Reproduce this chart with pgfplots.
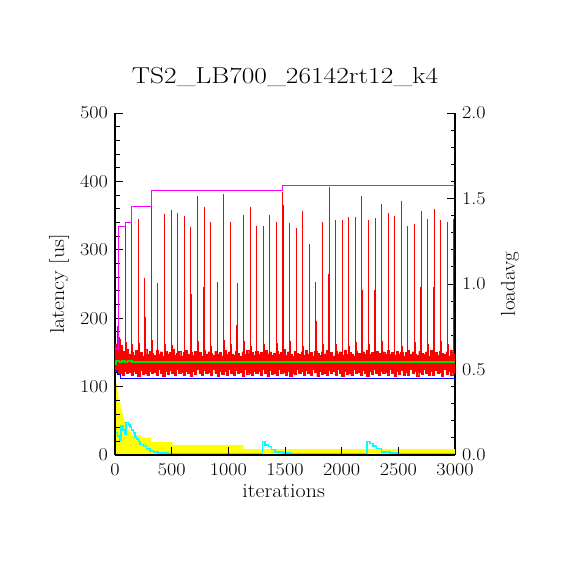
\documentclass[border=0pt]{standalone}
\usepackage{pgfplots}
\pgfplotsset{compat=1.18}
\definecolor{cred}{RGB}{255,0,0}
\definecolor{cgreen}{RGB}{0,225,0}
\definecolor{cblue}{RGB}{0,0,255}
\definecolor{cmag}{RGB}{255,0,255}
\definecolor{ccyan}{RGB}{0,255,255}
\definecolor{cyel}{RGB}{255,255,0}
\newcommand\tkf{\fontsize{18}{18}\selectfont}
\newcommand\lbf{\fontsize{20}{24}\selectfont}
\begin{document}
\begin{tikzpicture}[x=1pt,y=1pt]
\path[use as bounding box] (-115,-115) rectangle (455,455);
% ---------- loadavg axis (right) ----------
\begin{axis}[
  at={(0,0)}, anchor=south west, scale only axis, width=340pt, height=342pt,
  xmin=0, xmax=3000, ymin=0, ymax=2,
  axis x line=none, axis y line*=right,
  /pgf/number format/assume math mode=true,
  ytick={0,0.5,1,1.5,2}, minor y tick num=4,
  tick align=inside, major tick length=8pt, minor tick length=4.5pt,
  every tick/.append style={black, line width=0.9pt},
  axis line style={black, line width=1.2pt},
  yticklabel={\scalebox{1.12}[1]{\pgfmathprintnumber{\tick}}},
  yticklabel style={font=\tkf, /pgf/number format/fixed, /pgf/number format/fixed zerofill, /pgf/number format/precision=1, anchor=west, inner sep=0pt, xshift=7pt},
  ylabel={\scalebox{1.05}[1]{loadavg}},
  ylabel style={font=\lbf, at={(axis description cs:1.176,0.5)}, anchor=base, inner sep=0pt},
  clip=false,
]
\addplot[draw=none, fill=cyel, const plot] coordinates {
(0,0.47)(10,0.42)(20,0.37)(30,0.33)(40,0.30)(50,0.27)(60,0.245)(70,0.22)(80,0.20)(90,0.18)(100,0.165)(115,0.15)(130,0.135)(147,0.117)(229,0.101)(318,0.076)(509,0.058)(1132,0.035)(3000,0.035)} \closedcycle;
\addplot[ccyan, line width=1.6pt, const plot] coordinates {
(0,0.058)(5,0.131)(21,0.111)(38,0.088)(53,0.170)(68,0.146)(88,0.123)(97,0.189)(118,0.175)(132,0.162)(147,0.146)(162,0.127)(176,0.107)(191,0.092)(206,0.078)(221,0.062)(250,0.049)(279,0.035)(309,0.025)(338,0.016)(382,0.01)(471,0.006)
(1300,0.078)(1324,0.058)(1353,0.049)(1382,0.033)(1412,0.019)(1471,0.01)(1559,0.006)
(2226,0.078)(2250,0.068)(2279,0.053)(2309,0.039)(2353,0.019)(2426,0.01)(2491,0.006)(3000,0.006)};
\end{axis}
% ---------- latency axis (left) ----------
\begin{axis}[
  at={(0,0)}, anchor=south west, scale only axis, width=340pt, height=342pt,
  xmin=0, xmax=3000, ymin=0, ymax=500,
  axis x line*=bottom, axis y line*=left,
  /pgf/number format/assume math mode=true,
  /pgf/number format/1000 sep={},
  xtick={0,500,...,3000}, ytick={0,100,...,500}, minor y tick num=4,
  tick align=inside, major tick length=8pt, minor tick length=4.5pt,
  every tick/.append style={black, line width=0.9pt},
  axis line style={black, line width=1.2pt},
  xticklabel={\scalebox{1.12}[1]{\pgfmathprintnumber{\tick}}},
  yticklabel={\scalebox{1.12}[1]{\pgfmathprintnumber{\tick}}},
  xticklabel style={font=\tkf, anchor=north, inner sep=0pt, yshift=-8.5pt},
  yticklabel style={font=\tkf, anchor=east, inner sep=0pt, xshift=-7pt},
  title={\scalebox{1.19}[1]{TS2\_LB700\_26142rt12\_k4}},
  title style={font=\fontsize{23}{27}\selectfont, at={(axis description cs:0.5,1.0673)}, anchor=base, inner sep=0pt},
  xlabel={\scalebox{1.1}[1]{iterations}},
  xlabel style={font=\lbf, at={(axis description cs:0.496,-0.1228)}, anchor=base, inner sep=0pt},
  ylabel={\scalebox{1.1}[1]{latency [us]}},
  ylabel style={font=\lbf, at={(axis description cs:-0.15,0.5)}, anchor=base, inner sep=0pt},
]
% noise band (upper envelope, then lower envelope back)
\addplot[draw=cred, fill=cred, line width=0.4pt, const plot] coordinates {
(0,162)(20,172)(40,160)(60,152)(80,149)(100,155)(120,147)(140,151)(160,146)(180,153)(200,148)(220,150)(240,145)(260,154)(280,147)(300,152)(320,149)(340,146)(360,153)(380,148)(400,151)(420,145)(440,152)(460,147)(480,150)(500,154)(520,146)(540,149)(560,152)(580,145)(600,150)(620,153)(640,147)(660,151)(680,146)(700,152)(720,148)(740,150)(760,145)(780,153)(800,147)(820,151)(840,149)(860,146)(880,152)(900,148)(920,150)(940,145)(960,153)(980,147)(1000,151)(1020,148)(1040,146)(1060,152)(1080,149)(1100,145)(1120,151)(1140,147)(1160,153)(1180,148)(1200,150)(1220,146)(1240,152)(1260,147)(1280,150)(1300,145)(1320,153)(1340,148)(1360,151)(1380,146)(1400,149)(1420,152)(1440,147)(1460,150)(1480,154)(1500,146)(1520,151)(1540,148)(1560,145)(1580,152)(1600,149)(1620,147)(1640,151)(1660,146)(1680,153)(1700,148)(1720,150)(1740,145)(1760,152)(1780,149)(1800,146)(1820,151)(1840,148)(1860,153)(1880,147)(1900,150)(1920,145)(1940,152)(1960,148)(1980,151)(2000,146)(2020,153)(2040,147)(2060,150)(2080,148)(2100,145)(2120,152)(2140,149)(2160,146)(2180,151)(2200,148)(2220,153)(2240,147)(2260,150)(2280,145)(2300,152)(2320,149)(2340,146)(2360,151)(2380,148)(2400,153)(2420,147)(2440,150)(2460,146)(2480,152)(2500,148)(2520,151)(2540,145)(2560,150)(2580,153)(2600,147)(2620,151)(2640,148)(2660,146)(2680,152)(2700,149)(2720,147)(2740,151)(2760,145)(2780,153)(2800,148)(2820,150)(2840,146)(2860,152)(2880,149)(2900,147)(2920,151)(2940,145)(2960,153)(2980,148)(3000,150)
(3000,120)(2980,116)(2960,123)(2940,118)(2920,125)(2900,115)(2880,121)(2860,119)(2840,124)(2820,117)(2800,122)(2780,116)(2760,120)(2740,125)(2720,118)(2700,121)(2680,115)(2660,123)(2640,119)(2620,125)(2600,117)(2580,121)(2560,116)(2540,124)(2520,118)(2500,122)(2480,115)(2460,120)(2440,125)(2420,117)(2400,121)(2380,119)(2360,123)(2340,116)(2320,120)(2300,125)(2280,118)(2260,122)(2240,115)(2220,120)(2200,124)(2180,117)(2160,121)(2140,119)(2120,125)(2100,116)(2080,120)(2060,118)(2040,123)(2020,115)(2000,120)(1980,125)(1960,117)(1940,122)(1920,119)(1900,124)(1880,116)(1860,120)(1840,118)(1820,123)(1800,115)(1780,121)(1760,125)(1740,117)(1720,120)(1700,124)(1680,116)(1660,122)(1640,119)(1620,125)(1600,118)(1580,120)(1560,115)(1540,123)(1520,117)(1500,121)(1480,119)(1460,125)(1440,116)(1420,120)(1400,118)(1380,124)(1360,115)(1340,120)(1320,125)(1300,117)(1280,122)(1260,119)(1240,123)(1220,116)(1200,120)(1180,118)(1160,125)(1140,115)(1120,121)(1100,119)(1080,124)(1060,117)(1040,120)(1020,125)(1000,116)(980,122)(960,118)(940,123)(920,115)(900,120)(880,125)(860,117)(840,121)(820,119)(800,124)(780,116)(760,120)(740,125)(720,118)(700,122)(680,115)(660,120)(640,123)(620,117)(600,121)(580,119)(560,125)(540,116)(520,120)(500,124)(480,118)(460,122)(440,115)(420,120)(400,125)(380,117)(360,121)(340,119)(320,123)(300,116)(280,120)(260,118)(240,124)(220,115)(200,120)(180,122)(160,117)(140,121)(120,119)(100,123)(80,117)(60,120)(40,119)(20,122)(0,124)};
% spikes
\addplot[cred, line width=1pt, unbounded coords=jump] coordinates {
(24,140)(24,188)(nan,nan)(44,140)(44,173)(nan,nan)
(91,140)(91,334)(nan,nan)(144,140)(144,340)(nan,nan)(203,140)(203,345)(nan,nan)
(259,140)(259,259)(nan,nan)(265,140)(265,202)(nan,nan)(320,140)(320,364)(nan,nan)
(379,140)(379,252)(nan,nan)(438,140)(438,352)(nan,nan)(497,140)(497,358)(nan,nan)
(550,140)(550,354)(nan,nan)(609,140)(609,349)(nan,nan)(668,140)(668,334)(nan,nan)
(673,140)(673,235)(nan,nan)(726,140)(726,379)(nan,nan)(779,140)(779,246)(nan,nan)
(788,140)(788,363)(nan,nan)(844,140)(844,341)(nan,nan)(903,140)(903,253)(nan,nan)
(956,140)(956,382)(nan,nan)(1018,140)(1018,341)(nan,nan)(1074,140)(1074,190)(nan,nan)
(1080,140)(1080,252)(nan,nan)(1132,140)(1132,351)(nan,nan)(1194,140)(1194,362)(nan,nan)
(1247,140)(1247,335)(nan,nan)(1309,140)(1309,335)(nan,nan)(1362,140)(1362,351)(nan,nan)
(1424,140)(1424,340)(nan,nan)(1477,140)(1477,385)(nan,nan)(1486,140)(1486,365)(nan,nan)
(1538,140)(1538,339)(nan,nan)(1600,140)(1600,332)(nan,nan)(1653,140)(1653,357)(nan,nan)
(1715,140)(1715,308)(nan,nan)(1768,140)(1768,253)(nan,nan)(1774,140)(1774,196)(nan,nan)
(1830,140)(1830,340)(nan,nan)(1886,140)(1886,265)(nan,nan)(1891,140)(1891,392)(nan,nan)
(1944,140)(1944,344)(nan,nan)(2006,140)(2006,344)(nan,nan)(2059,140)(2059,348)(nan,nan)
(2121,140)(2121,348)(nan,nan)(2177,140)(2177,379)(nan,nan)(2182,140)(2182,241)(nan,nan)
(2235,140)(2235,343)(nan,nan)(2291,140)(2291,241)(nan,nan)(2297,140)(2297,346)(nan,nan)
(2350,140)(2350,367)(nan,nan)(2409,140)(2409,354)(nan,nan)(2465,140)(2465,349)(nan,nan)
(2526,140)(2526,371)(nan,nan)(2579,140)(2579,335)(nan,nan)(2585,140)(2585,251)(nan,nan)
(2641,140)(2641,338)(nan,nan)(2697,140)(2697,246)(nan,nan)(2703,140)(2703,357)(nan,nan)
(2756,140)(2756,345)(nan,nan)(2809,140)(2809,246)(nan,nan)(2815,140)(2815,360)(nan,nan)
(2871,140)(2871,344)(nan,nan)(2932,140)(2932,341)(nan,nan)(2985,140)(2985,345)(nan,nan)
(52,140)(52,170)(nan,nan)(100,140)(100,165)(nan,nan)(152,140)(152,162)(nan,nan)
(212,140)(212,164)(nan,nan)(330,140)(330,168)(nan,nan)(446,140)(446,163)(nan,nan)
(505,140)(505,161)(nan,nan)(617,140)(617,165)(nan,nan)(734,140)(734,166)(nan,nan)
(852,140)(852,160)(nan,nan)(964,140)(964,168)(nan,nan)(1026,140)(1026,162)(nan,nan)
(1140,140)(1140,166)(nan,nan)(1202,140)(1202,160)(nan,nan)(1316,140)(1316,162)(nan,nan)
(1432,140)(1432,164)(nan,nan)(1545,140)(1545,166)(nan,nan)(1661,140)(1661,160)(nan,nan)
(1838,140)(1838,162)(nan,nan)(1952,140)(1952,163)(nan,nan)(2066,140)(2066,160)(nan,nan)
(2130,140)(2130,165)(nan,nan)(2243,140)(2243,163)(nan,nan)(2358,140)(2358,166)(nan,nan)
(2417,140)(2417,162)(nan,nan)(2534,140)(2534,160)(nan,nan)(2649,140)(2649,165)(nan,nan)
(2764,140)(2764,163)(nan,nan)(2880,140)(2880,166)(nan,nan)(2940,140)(2940,162)};
% average
\addplot[cgreen, line width=1.8pt] coordinates {
(0,133)(12,133)(12,138)(40,138)(40,136)(60,136)(60,137)(90,137)(90,136)(110,136)(110,137)(150,137)(150,136.5)(330,136.5)(330,136)(360,136)(360,136.5)(1000,136.5)(2000,136.5)(3000,136.5)};
% minimum
\addplot[cblue, line width=1pt] coordinates {
(0,124)(25,124)(25,118)(50,118)(50,112.5)(3000,112.5)};
% maximum
\addplot[cmag, line width=1pt] coordinates {
(0,156)(29,156)(29,334)(91,334)(91,340)(144,340)(144,364)(320,364)(320,386)(1477,386)(1477,394)(3000,394)};
\end{axis}
\end{tikzpicture}
\end{document}
